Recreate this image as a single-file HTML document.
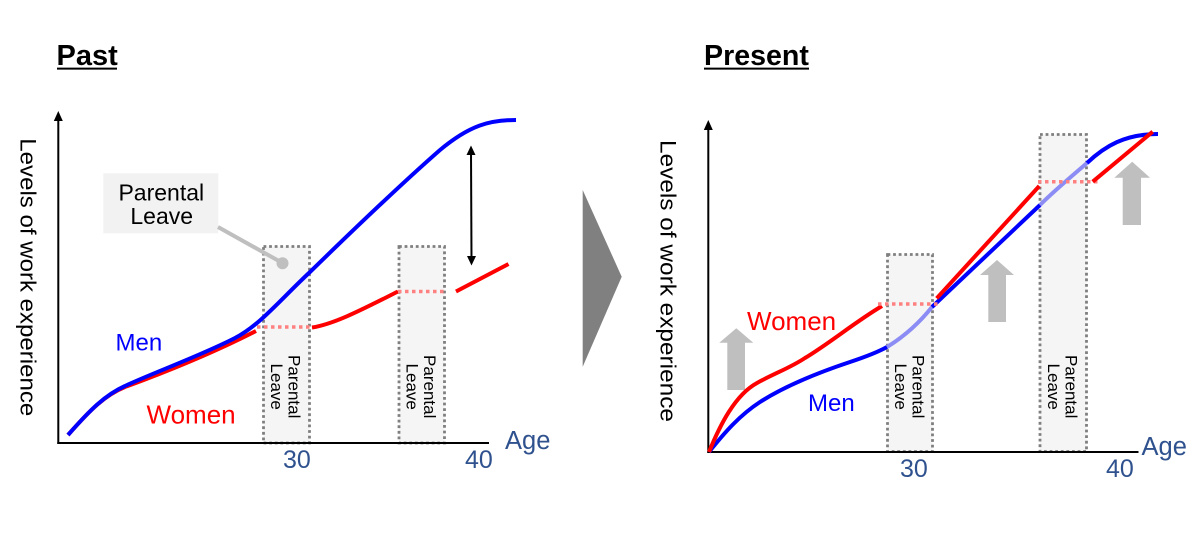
<!DOCTYPE html>
<html>
<head>
<meta charset="utf-8">
<style>
  html,body{margin:0;padding:0;background:#fff;}
  svg{display:block;}
  text{font-family:"Liberation Sans",Arial,sans-serif;}
</style>
</head>
<body>
<svg width="1200" height="547" viewBox="0 0 1200 547" xmlns="http://www.w3.org/2000/svg">
  <rect x="0" y="0" width="1200" height="547" fill="#ffffff"/>

  <!-- Titles -->
  <text x="56.5" y="65" font-size="29" font-weight="bold" fill="#000">Past</text>
  <line x1="57" y1="68.6" x2="117" y2="68.6" stroke="#000" stroke-width="2"/>
  <text x="704" y="65" font-size="28.6" font-weight="bold" fill="#000">Present</text>
  <line x1="704" y1="68.6" x2="809" y2="68.6" stroke="#000" stroke-width="2"/>

  <!-- Big middle triangle -->
  <polygon points="582.7,190 621.7,276.7 582.7,366.7" fill="#808080"/>

  <!-- ================= LEFT CHART ================= -->
  <rect x="263.5" y="246.5" width="46" height="196.5" fill="#f5f5f5" stroke="#7f7f7f" stroke-width="2.8" stroke-dasharray="2.8 2.8"/>
  <rect x="399" y="246.5" width="45.5" height="196.5" fill="#f5f5f5" stroke="#7f7f7f" stroke-width="2.8" stroke-dasharray="2.8 2.8"/>

  <line x1="58.3" y1="444" x2="58.3" y2="120" stroke="#000" stroke-width="2"/>
  <polygon points="58.3,111 53.8,121 62.8,121" fill="#000"/>
  <line x1="57.3" y1="443" x2="489" y2="443" stroke="#000" stroke-width="2"/>

  <text transform="translate(20.7,138.3) rotate(90)" font-size="22.5" fill="#000" textLength="278" lengthAdjust="spacingAndGlyphs">Levels of work experience</text>

  <rect x="103.3" y="173.3" width="115" height="60" fill="#f2f2f2"/>
  <text x="161.3" y="200.7" font-size="23" text-anchor="middle" fill="#000">Parental</text>
  <text x="161.7" y="224" font-size="23" text-anchor="middle" fill="#000">Leave</text>
  <line x1="218" y1="227" x2="282.5" y2="263" stroke="#bfbfbf" stroke-width="4"/>
  <circle cx="282.5" cy="263.3" r="6" fill="#bfbfbf"/>

  <!-- Women red -->
  <path d="M68,435 C90,410 105,395 125,387 C155,376 205,357 256,331" fill="none" stroke="#ff0000" stroke-width="4"/>
  <line x1="257" y1="327" x2="311" y2="327" stroke="#ff8080" stroke-width="3.5" stroke-dasharray="3.5 3.5"/>
  <path d="M312,327.5 C335,324 365,308 398,291.5" fill="none" stroke="#ff0000" stroke-width="4"/>
  <line x1="398" y1="291.5" x2="447" y2="291.5" stroke="#ff8080" stroke-width="3.5" stroke-dasharray="3.5 3.5"/>
  <line x1="456" y1="291.5" x2="508.5" y2="264" stroke="#ff0000" stroke-width="4"/>

  <!-- Men blue -->
  <path d="M68,435 C90,410 105,395 125,386 C150,374 200,356 235,338 C260,325 280,300 310,272 C350,233 400,185 440,150 C470,125 490,120 516,120" fill="none" stroke="#0000ff" stroke-width="4"/>

  <line x1="471" y1="152" x2="471.5" y2="260" stroke="#000" stroke-width="2"/>
  <polygon points="471,145.5 466.5,155 475.5,155" fill="#000"/>
  <polygon points="471.5,265.5 467,256 476,256" fill="#000"/>

  <text transform="translate(288.5,386.7) rotate(90)" font-size="17" text-anchor="middle" fill="#000">Parental</text>
  <text transform="translate(271,386.7) rotate(90)" font-size="17" text-anchor="middle" fill="#000">Leave</text>
  <text transform="translate(424,386.7) rotate(90)" font-size="17" text-anchor="middle" fill="#000">Parental</text>
  <text transform="translate(406.5,386.7) rotate(90)" font-size="17" text-anchor="middle" fill="#000">Leave</text>

  <text x="115.5" y="350.7" font-size="24" fill="#0000ff">Men</text>
  <text x="146.5" y="423.3" font-size="26" fill="#ff0000">Women</text>

  <text x="283" y="468" font-size="25" fill="#2f528f">30</text>
  <text x="465" y="468" font-size="25" fill="#2f528f">40</text>
  <text x="505" y="449" font-size="25.5" fill="#2f528f">Age</text>

  <!-- ================= RIGHT CHART ================= -->
  <rect x="887.5" y="254.5" width="45" height="197" fill="#f5f5f5" stroke="#7f7f7f" stroke-width="2.8" stroke-dasharray="2.8 2.8"/>
  <rect x="1040" y="134.5" width="46.5" height="317" fill="#f5f5f5" stroke="#7f7f7f" stroke-width="2.8" stroke-dasharray="2.8 2.8"/>

  <line x1="708.3" y1="453" x2="708.3" y2="129" stroke="#000" stroke-width="2"/>
  <polygon points="708.3,120 703.8,130 712.8,130" fill="#000"/>
  <line x1="707.3" y1="452" x2="1138.5" y2="452" stroke="#000" stroke-width="2"/>

  <text transform="translate(660.5,140) rotate(90)" font-size="22.5" fill="#000" textLength="282" lengthAdjust="spacingAndGlyphs">Levels of work experience</text>

  <polygon points="736.3,328.3 753.3,342.7 745,342.7 745,390 727.3,390 727.3,342.7 719.3,342.7" fill="#bfbfbf"/>
  <polygon points="997,260 1014,275 1006,275 1006,322 988.3,322 988.3,275 980,275" fill="#bfbfbf"/>
  <polygon points="1132.2,161.7 1150,177.7 1141,177.7 1141,225 1122.7,225 1122.7,177.7 1114.3,177.7" fill="#bfbfbf"/>

  <!-- Men blue -->
  <path d="M709,452 C725,432 740,415 760,402 C785,386 820,372 850,362 C865,357 878,352 887,347" fill="none" stroke="#0000ff" stroke-width="4"/>
  <path d="M887,347 C905,336 920,322 932,307" fill="none" stroke="#8c8cf5" stroke-width="4"/>
  <path d="M932,307 L1040,205" fill="none" stroke="#0000ff" stroke-width="4"/>
  <path d="M1040,205 C1055,190 1072,176 1087,163" fill="none" stroke="#8c8cf5" stroke-width="4"/>
  <path d="M1087,163 C1105,146 1125,134 1158,134" fill="none" stroke="#0000ff" stroke-width="4"/>

  <!-- Women red -->
  <path d="M709,452 C720,425 735,395 757,383 C775,373 790,368 805,358 C830,343 855,322 882,306" fill="none" stroke="#ff0000" stroke-width="4"/>
  <line x1="878" y1="304" x2="940" y2="304" stroke="#ff8080" stroke-width="3.5" stroke-dasharray="3.5 3.5"/>
  <line x1="936.7" y1="298.3" x2="1039.3" y2="186" stroke="#ff0000" stroke-width="4"/>
  <line x1="1038" y1="181.7" x2="1100.7" y2="181.7" stroke="#ff8080" stroke-width="3.5" stroke-dasharray="3.5 3.5"/>
  <line x1="1092.7" y1="181.7" x2="1152.7" y2="131.7" stroke="#ff0000" stroke-width="4"/>

  <text transform="translate(912.5,386.7) rotate(90)" font-size="17" text-anchor="middle" fill="#000">Parental</text>
  <text transform="translate(895,386.7) rotate(90)" font-size="17" text-anchor="middle" fill="#000">Leave</text>
  <text transform="translate(1065.5,386.7) rotate(90)" font-size="17" text-anchor="middle" fill="#000">Parental</text>
  <text transform="translate(1048,386.7) rotate(90)" font-size="17" text-anchor="middle" fill="#000">Leave</text>

  <text x="747" y="330" font-size="26" fill="#ff0000">Women</text>
  <text x="808" y="411" font-size="24" fill="#0000ff">Men</text>

  <text x="900" y="477" font-size="25" fill="#2f528f">30</text>
  <text x="1106" y="477" font-size="25" fill="#2f528f">40</text>
  <text x="1141.5" y="455" font-size="25.5" fill="#2f528f">Age</text>
</svg>
</body>
</html>
